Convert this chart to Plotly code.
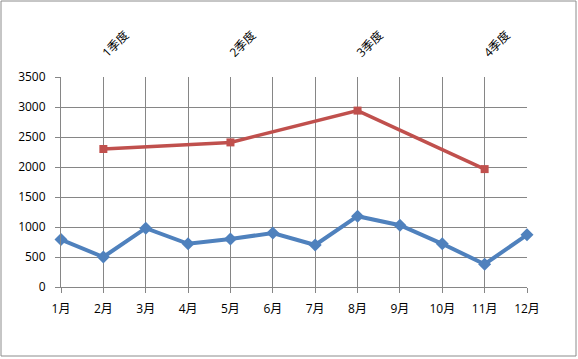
import plotly.graph_objects as go

months = ["1月", "2月", "3月", "4月", "5月", "6月", "7月", "8月", "9月", "10月", "11月", "12月"]
month_values = [790, 500, 980, 720, 800, 900, 700, 1180, 1030, 720, 380, 870]

quarters = ["1季度", "2季度", "3季度", "4季度"]
quarter_months = ["2月", "5月", "8月", "11月"]
quarter_values = [2300, 2410, 2940, 1965]

y_ticks = [0, 500, 1000, 1500, 2000, 2500, 3000, 3500]

FONT = "Open Sans, Noto Sans CJK SC, sans-serif"
GRID = "#868686"

fig = go.Figure()
fig.add_trace(go.Scatter(
    x=months, y=month_values, mode="lines+markers",
    line=dict(color="#4F81BD", width=4),
    marker=dict(symbol="diamond", size=10, color="#4F81BD"),
    xaxis="x", yaxis="y", showlegend=False, cliponaxis=False,
))
fig.add_trace(go.Scatter(
    x=quarter_months, y=quarter_values, mode="lines+markers",
    line=dict(color="#C0504D", width=3.5),
    marker=dict(symbol="square", size=8, color="#C0504D"),
    xaxis="x2", yaxis="y", showlegend=False, cliponaxis=False,
))

L, R, T, B = 61, 51, 77, 72
W, H = 578, 359
pw, ph = W - L - R, H - T - B

fig.update_layout(
    width=W, height=H,
    margin=dict(l=L, r=R, t=T, b=B),
    paper_bgcolor="white", plot_bgcolor="white",
    font=dict(family=FONT, size=12, color="#000000"),
    xaxis=dict(
        type="category", categoryarray=months, categoryorder="array",
        range=[0, 11], showgrid=True, gridcolor=GRID, gridwidth=1,
        showline=True, linecolor=GRID, linewidth=1,
        ticks="outside", ticklen=5, tickcolor=GRID, tickangle=0,
        tickfont=dict(size=12), fixedrange=True, zeroline=False,
        ticklabelstandoff=6,
    ),
    xaxis2=dict(
        type="category", categoryarray=months, categoryorder="array",
        range=[0, 11], overlaying="x", side="top",
        tickmode="array", tickvals=quarter_months, ticktext=quarters,
        tickangle=-45, showgrid=False, showline=False, ticks="",
        tickfont=dict(size=12), ticklabelstandoff=14, zeroline=False,
    ),
    yaxis=dict(
        range=[0, 3500], tickvals=y_ticks, showgrid=True, gridcolor=GRID, gridwidth=1,
        showline=True, linecolor=GRID, linewidth=1,
        ticks="outside", ticklen=5, tickcolor=GRID,
        tickfont=dict(size=12), zeroline=False, ticklabelstandoff=7,
    ),
    shapes=[dict(
        type="rect", xref="paper", yref="paper",
        x0=(1 - L) / pw, x1=(W - 2 - L) / pw,
        y0=(T + ph - (H - 3)) / ph, y1=(T + ph - 1) / ph,
        line=dict(color="#8c8c8c", width=1), fillcolor="rgba(0,0,0,0)",
        layer="below",
    )],
)

fig.write_html("out.html", config={"displayModeBar": False},
               post_script="document.body.style.margin='0';")
